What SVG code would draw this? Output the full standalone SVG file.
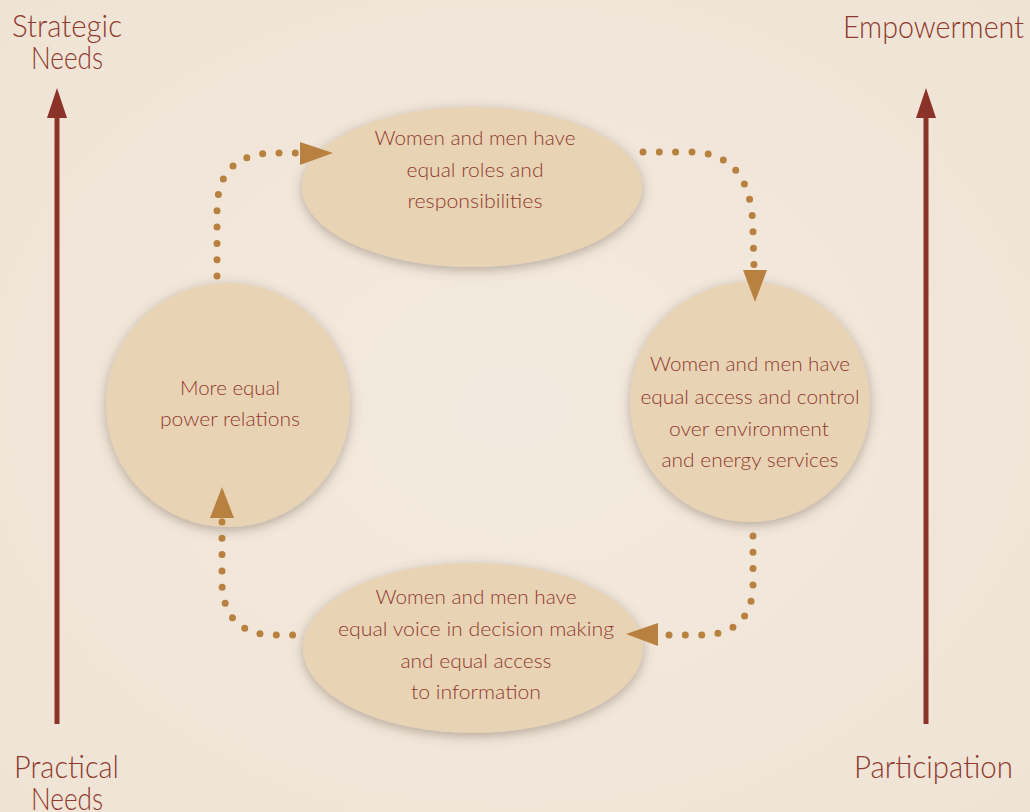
<svg xmlns="http://www.w3.org/2000/svg" width="1030" height="812" viewBox="0 0 1030 812">
<defs>
<style>
.t{font-family:Lato,"DejaVu Sans Condensed","Liberation Sans",sans-serif;fill:#8e3a2e;}
.big{font-size:31px;font-weight:300;}
.lab{font-size:20px;text-anchor:middle;font-weight:300;}
.dot{fill:none;stroke:#b8813f;stroke-width:7;stroke-linecap:round;stroke-dasharray:0 16.3;}
.head{fill:#b8813f;}
.node{fill:#e9d3b5;filter:url(#sh);}
.ax{stroke:#8b3328;stroke-width:5;}
.axh{fill:#8b3328;}
</style>
<filter id="sh" x="-20%" y="-20%" width="140%" height="140%">
<feDropShadow dx="0" dy="3" stdDeviation="6" flood-color="#6b5a48" flood-opacity="0.45"/>
</filter>
<radialGradient id="bg" cx="50%" cy="50%" r="70%">
<stop offset="0" stop-color="#f3eadf"/>
<stop offset="1" stop-color="#efe3d4"/>
</radialGradient>
</defs>
<rect width="1030" height="812" fill="url(#bg)"/>

<g id="axes">
<line class="ax" x1="57" y1="724" x2="57" y2="112"/>
<polygon class="axh" points="57,88 47,118 67,118"/>
<line class="ax" x1="926" y1="724" x2="926" y2="112"/>
<polygon class="axh" points="926,88 916,118 936,118"/>
</g>

<g id="axis-labels">
<text class="t big" x="12" y="37" textLength="110" lengthAdjust="spacingAndGlyphs">Strategic</text>
<text class="t big" x="31" y="69" textLength="72" lengthAdjust="spacingAndGlyphs">Needs</text>
<text class="t big" x="843" y="38" textLength="181" lengthAdjust="spacingAndGlyphs">Empowerment</text>
<text class="t big" x="14" y="778" textLength="105" lengthAdjust="spacingAndGlyphs">Practical</text>
<text class="t big" x="31" y="810" textLength="72" lengthAdjust="spacingAndGlyphs">Needs</text>
<text class="t big" x="854" y="778" textLength="159" lengthAdjust="spacingAndGlyphs">Participation</text>
</g>

<g id="node-top">
<ellipse class="node" cx="472" cy="187" rx="170" ry="80"/>
<text class="t lab" x="475" y="145" textLength="201" lengthAdjust="spacingAndGlyphs">Women and men have</text>
<text class="t lab" x="475" y="177" textLength="137" lengthAdjust="spacingAndGlyphs">equal roles and</text>
<text class="t lab" x="475" y="208" textLength="135" lengthAdjust="spacingAndGlyphs">responsibilities</text>
</g>

<g id="node-right">
<circle class="node" cx="750" cy="402" r="120"/>
<text class="t lab" x="750" y="371" textLength="200" lengthAdjust="spacingAndGlyphs">Women and men have</text>
<text class="t lab" x="750" y="404" textLength="219" lengthAdjust="spacingAndGlyphs">equal access and control</text>
<text class="t lab" x="749" y="436" textLength="160" lengthAdjust="spacingAndGlyphs">over environment</text>
<text class="t lab" x="750" y="467" textLength="177" lengthAdjust="spacingAndGlyphs">and energy services</text>
</g>

<g id="node-bottom">
<ellipse class="node" cx="473" cy="648" rx="170" ry="85"/>
<text class="t lab" x="476" y="604" textLength="201" lengthAdjust="spacingAndGlyphs">Women and men have</text>
<text class="t lab" x="476" y="636" textLength="276" lengthAdjust="spacingAndGlyphs">equal voice in decision making</text>
<text class="t lab" x="476" y="668" textLength="151" lengthAdjust="spacingAndGlyphs">and equal access</text>
<text class="t lab" x="476" y="699" textLength="130" lengthAdjust="spacingAndGlyphs">to information</text>
</g>

<g id="node-left">
<circle class="node" cx="228" cy="405" r="122"/>
<text class="t lab" x="230" y="395" textLength="100" lengthAdjust="spacingAndGlyphs">More equal</text>
<text class="t lab" x="230" y="426" textLength="140" lengthAdjust="spacingAndGlyphs">power relations</text>
</g>

<g id="connectors">
<path class="dot" d="M217,276 L217,211 Q217,153 275,153 L298,153"/>
<polygon class="head" points="333,153 300,142 300,165"/>
<path class="dot" d="M643,152 L690,152 Q752,152 753,230 L754,267"/>
<polygon class="head" points="755,302 743,270 767,270"/>
<path class="dot" d="M753,536 L753,588 Q750,635 700,635 L662,635"/>
<polygon class="head" points="626,634 658,623 658,646"/>
<path class="dot" d="M222,522 L222,585 Q225,635 275,635 L300,635"/>
<polygon class="head" points="222,487 210,518 234,518"/>
</g>
</svg>
